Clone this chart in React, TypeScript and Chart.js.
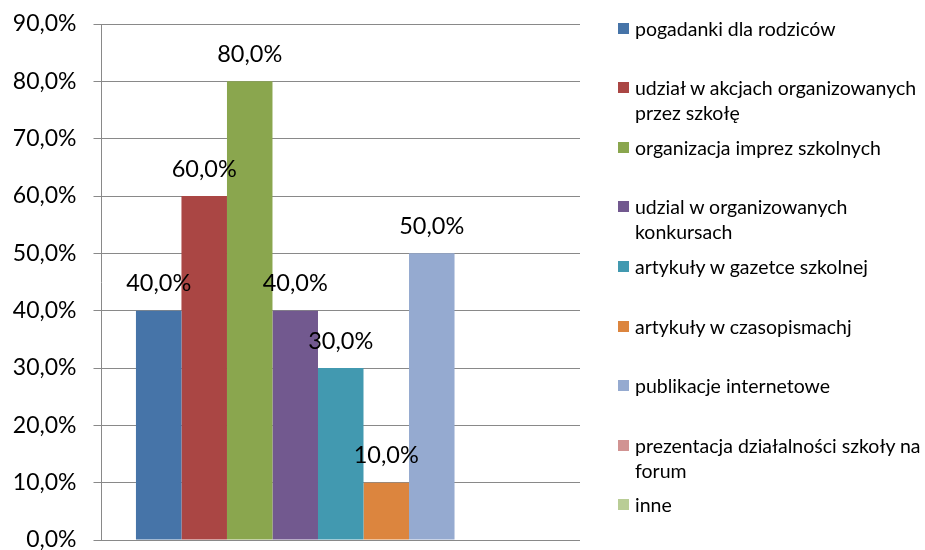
import React, { useEffect, useRef } from "react";
import { Chart, registerables } from "chart.js";

Chart.register(...registerables);

const categories = [""];
const seriesNames: string[][] = [
  ["pogadanki dla rodziców"],
  ["udział w akcjach organizowanych", "przez szkołę"],
  ["organizacja imprez szkolnych"],
  ["udzial w organizowanych", "konkursach"],
  ["artykuły w gazetce szkolnej"],
  ["artykuły w czasopismachj"],
  ["publikacje internetowe"],
  ["prezentacja działalności szkoły na", "forum"],
  ["inne"],
];
const seriesValues = [40, 60, 80, 40, 30, 10, 50, 0, 0];
const seriesColors = [
  "#4674A8",
  "#AA4644",
  "#8AA64E",
  "#72598F",
  "#4299B0",
  "#DC853E",
  "#95AAD0",
  "#D19392",
  "#B9CD96",
];
const yMin = 0;
const yMax = 90;
const yStep = 10;

const FONT = "Lato, 'Open Sans', sans-serif";
const fmt = (v: number) => v.toFixed(1).replace(".", ",") + "%";

const dataLabelPlugin = {
  id: "dataLabels",
  afterDatasetsDraw(chart: any) {
    const ctx = chart.ctx;
    ctx.save();
    ctx.font = `23.5px ${FONT}`;
    ctx.fillStyle = "#000";
    ctx.textAlign = "center";
    ctx.textBaseline = "middle";
    chart.data.datasets.forEach((ds: any, i: number) => {
      const meta = chart.getDatasetMeta(i);
      meta.data.forEach((el: any, j: number) => {
        const v = ds.data[j];
        if (v > 0) ctx.fillText(fmt(v), el.x, el.y - 27);
      });
    });
    ctx.restore();
  },
};

export default function App() {
  const ref = useRef<HTMLCanvasElement>(null);

  useEffect(() => {
    if (!ref.current) return;
    const chart = new Chart(ref.current, {
      type: "bar",
      data: {
        labels: categories,
        datasets: seriesNames.map((n, i) => ({
          label: n.join(" "),
          data: [seriesValues[i]],
          backgroundColor: seriesColors[i],
          borderWidth: 0,
          categoryPercentage: 0.856,
          barPercentage: 1,
        })),
      },
      options: {
        responsive: false,
        animation: false,
        layout: { padding: { left: 0, top: 24, right: 345, bottom: 10 } },
        plugins: {
          legend: { display: false },
          tooltip: { enabled: false },
        },
        scales: {
          x: { display: false },
          y: {
            min: yMin,
            max: yMax,
            ticks: {
              stepSize: yStep,
              callback: (v: any) => fmt(Number(v)),
              font: { family: FONT, size: 23, lineHeight: 1 },
              color: "#000",
              padding: 17,
            },
            grid: { color: "#898989", lineWidth: 1, tickLength: 8 },
            border: { display: true, color: "#898989", width: 1 },
            afterFit: (s: any) => {
              s.width = 101.5;
              s.paddingTop = 0;
              s.paddingBottom = 0;
            },
          },
        },
      },
      plugins: [dataLabelPlugin],
    });
    return () => chart.destroy();
  }, []);

  return (
    <div style={{ position: "absolute", left: 0, top: 0, width: 925, height: 550, background: "#fff", overflow: "hidden" }}>
      <canvas ref={ref} width={925} height={550} style={{ position: "absolute", left: 0, top: 0 }} />
      {seriesNames.map((lines, i) => {
        const center = 28 + i * 59.6;
        return (
          <div key={i} style={{ position: "absolute", left: 618, top: center - 12.5, fontFamily: FONT, fontSize: 19.5, lineHeight: "25px", color: "#000", whiteSpace: "nowrap" }}>
            <span style={{ position: "absolute", left: 0, top: 7, width: 11, height: 11, background: seriesColors[i] }} />
            <div style={{ marginLeft: 17 }}>
              {lines.map((l, k) => (
                <div key={k}>{l}</div>
              ))}
            </div>
          </div>
        );
      })}
    </div>
  );
}
